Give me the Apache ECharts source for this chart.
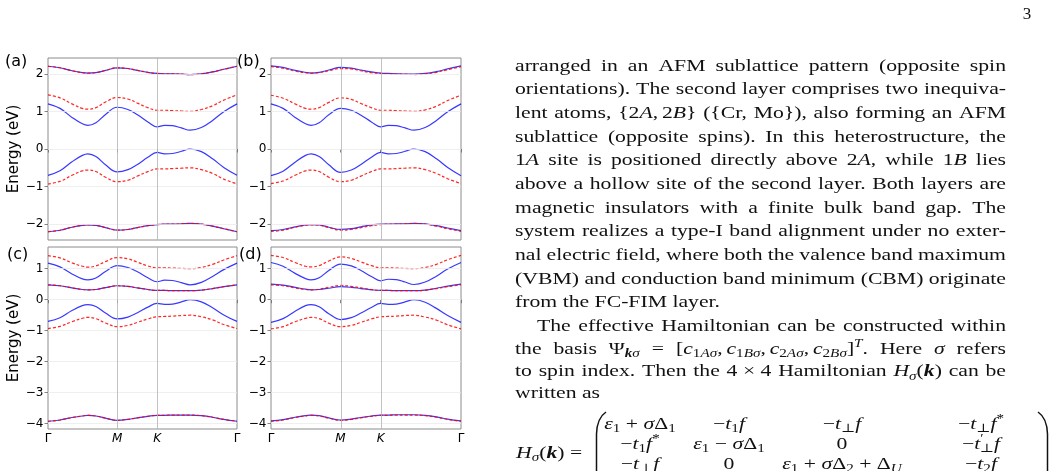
<!DOCTYPE html>
<html><head><meta charset="utf-8">
<script src="https://cdn.jsdelivr.net/npm/echarts@6/dist/echarts.min.js"></script>
<style>html,body{margin:0;padding:0;background:#fff}#c{width:1058px;height:471px}</style>
</head><body><div id="c"></div>
<script>
// ---------------- DATA ----------------
const kPath = [0, 0.15, 0.3, 0.43, 0.5, 0.6, 0.72, 0.866, 1.0, 1.12, 1.25, 1.366, 1.46, 1.56, 1.67, 1.78, 1.92, 2.06, 2.2, 2.366];
const kTickPos = [0, 0.866, 1.366, 2.366];
const kTickLabels = ['Γ', 'M', 'K', 'Γ'];
const yTicksAB = [-2, -1, 0, 1, 2];
const yTicksCD = [-4, -3, -2, -1, 0, 1];
const panelLabels = ['(a)', '(b)', '(c)', '(d)'];
const yAxisTitle = 'Energy (eV)';

// panel (a)
const aBlueTop = [2.20, 2.16, 2.08, 2.03, 2.02, 2.03, 2.09, 2.16, 2.14, 2.09, 2.04, 2.01, 2.00, 2.00, 1.99, 1.98, 2.00, 2.05, 2.12, 2.20];
const aRedTop  = [2.20, 2.16, 2.08, 2.03, 2.02, 2.03, 2.09, 2.16, 2.14, 2.09, 2.04, 2.01, 2.00, 2.00, 1.99, 1.98, 2.00, 2.05, 2.12, 2.20];
const aBlueUp  = [1.20, 1.08, 0.84, 0.67, 0.63, 0.70, 0.92, 1.11, 1.05, 0.91, 0.72, 0.59, 0.63, 0.62, 0.56, 0.50, 0.57, 0.76, 0.99, 1.20];
const aRedUp   = [1.44, 1.36, 1.20, 1.08, 1.06, 1.10, 1.25, 1.37, 1.33, 1.22, 1.10, 1.03, 1.03, 1.02, 1.01, 1.00, 1.05, 1.15, 1.30, 1.44];
const aBlueLow = [-0.70, -0.58, -0.34, -0.17, -0.13, -0.20, -0.42, -0.61, -0.55, -0.41, -0.22, -0.09, -0.13, -0.12, -0.06, 0.00, -0.07, -0.26, -0.49, -0.70];
const aRedLow  = [-0.93, -0.86, -0.70, -0.58, -0.56, -0.60, -0.75, -0.87, -0.83, -0.72, -0.60, -0.53, -0.53, -0.52, -0.51, -0.50, -0.55, -0.65, -0.80, -0.93];
const aBlueBot = [-2.20, -2.16, -2.08, -2.03, -2.02, -2.03, -2.09, -2.16, -2.14, -2.09, -2.04, -2.01, -2.00, -2.00, -1.99, -1.98, -2.00, -2.05, -2.12, -2.20];
const aRedBot  = [-2.20, -2.16, -2.08, -2.03, -2.02, -2.03, -2.09, -2.16, -2.14, -2.09, -2.04, -2.01, -2.00, -2.00, -1.99, -1.98, -2.00, -2.05, -2.12, -2.20];

// panel (b)
const bBlueTop = [2.21, 2.17, 2.09, 2.04, 2.02, 2.04, 2.10, 2.17, 2.15, 2.10, 2.05, 2.02, 2.01, 2.00, 1.99, 1.99, 2.01, 2.06, 2.13, 2.21];
const bRedTop  = [2.19, 2.15, 2.07, 2.03, 2.02, 2.03, 2.08, 2.14, 2.13, 2.08, 2.03, 2.01, 2.00, 1.99, 1.99, 1.98, 2.00, 2.04, 2.11, 2.19];
const bBlueUp  = [1.20, 1.08, 0.84, 0.67, 0.63, 0.70, 0.91, 1.08, 1.03, 0.90, 0.72, 0.59, 0.63, 0.62, 0.56, 0.50, 0.57, 0.76, 0.99, 1.20];
const bRedUp   = [1.43, 1.35, 1.20, 1.08, 1.06, 1.10, 1.24, 1.36, 1.32, 1.21, 1.10, 1.03, 1.03, 1.02, 1.01, 1.00, 1.04, 1.14, 1.29, 1.43];
const bBlueLow = [-0.71, -0.59, -0.35, -0.17, -0.13, -0.20, -0.42, -0.62, -0.56, -0.41, -0.22, -0.09, -0.13, -0.12, -0.06, 0.00, -0.07, -0.26, -0.49, -0.71];
const bRedLow  = [-0.92, -0.85, -0.70, -0.58, -0.56, -0.60, -0.75, -0.87, -0.83, -0.72, -0.60, -0.53, -0.53, -0.52, -0.51, -0.50, -0.55, -0.65, -0.79, -0.92];
const bBlueBot = [-2.17, -2.14, -2.07, -2.02, -2.01, -2.02, -2.08, -2.14, -2.12, -2.07, -2.02, -2.00, -2.00, -1.99, -1.99, -1.98, -1.99, -2.04, -2.10, -2.17];
const bRedBot  = [-2.19, -2.16, -2.08, -2.03, -2.02, -2.03, -2.09, -2.16, -2.14, -2.09, -2.04, -2.01, -2.00, -2.00, -1.99, -1.98, -2.00, -2.05, -2.12, -2.19];

// panel (c)
const cBlueUp  = [1.18, 1.06, 0.83, 0.67, 0.64, 0.70, 0.91, 1.10, 1.04, 0.90, 0.71, 0.58, 0.63, 0.62, 0.55, 0.48, 0.56, 0.75, 0.97, 1.18];
const cRedUp   = [1.42, 1.35, 1.19, 1.08, 1.05, 1.09, 1.23, 1.36, 1.32, 1.21, 1.09, 1.03, 1.03, 1.02, 1.01, 1.00, 1.04, 1.14, 1.28, 1.42];
const cBlueMid = [0.48, 0.45, 0.38, 0.33, 0.32, 0.33, 0.39, 0.45, 0.43, 0.38, 0.33, 0.30, 0.30, 0.29, 0.29, 0.29, 0.31, 0.36, 0.42, 0.48];
const cRedMid  = [0.48, 0.45, 0.38, 0.33, 0.32, 0.33, 0.39, 0.45, 0.43, 0.38, 0.33, 0.30, 0.30, 0.29, 0.29, 0.29, 0.31, 0.36, 0.42, 0.48];
const cBlueLow = [-0.70, -0.58, -0.35, -0.19, -0.16, -0.22, -0.43, -0.62, -0.56, -0.42, -0.24, -0.12, -0.15, -0.14, -0.07, 0.00, -0.07, -0.26, -0.49, -0.70];
const cRedLow  = [-0.93, -0.86, -0.71, -0.60, -0.57, -0.61, -0.75, -0.87, -0.83, -0.73, -0.62, -0.55, -0.54, -0.53, -0.51, -0.50, -0.55, -0.65, -0.80, -0.93];
const cBlueBot = [-3.92, -3.88, -3.80, -3.75, -3.73, -3.75, -3.82, -3.89, -3.86, -3.81, -3.76, -3.73, -3.73, -3.72, -3.72, -3.72, -3.74, -3.79, -3.86, -3.92];
const cRedBot  = [-3.92, -3.88, -3.80, -3.75, -3.73, -3.75, -3.82, -3.89, -3.86, -3.81, -3.76, -3.73, -3.73, -3.72, -3.72, -3.72, -3.74, -3.79, -3.86, -3.92];

// panel (d)
const dBlueUp  = [1.20, 1.08, 0.85, 0.68, 0.64, 0.71, 0.94, 1.15, 1.09, 0.94, 0.75, 0.61, 0.66, 0.65, 0.57, 0.49, 0.57, 0.76, 0.99, 1.20];
const dRedUp   = [1.43, 1.36, 1.20, 1.08, 1.06, 1.10, 1.25, 1.38, 1.33, 1.22, 1.10, 1.03, 1.03, 1.02, 1.01, 1.00, 1.04, 1.14, 1.29, 1.43];
const dBlueMid = [0.50, 0.47, 0.40, 0.34, 0.32, 0.33, 0.37, 0.42, 0.40, 0.36, 0.32, 0.30, 0.30, 0.29, 0.29, 0.29, 0.31, 0.37, 0.44, 0.50];
const dRedMid  = [0.48, 0.45, 0.38, 0.33, 0.32, 0.34, 0.40, 0.46, 0.43, 0.38, 0.33, 0.30, 0.30, 0.29, 0.29, 0.29, 0.31, 0.36, 0.42, 0.48];
const dBlueLow = [-0.73, -0.61, -0.37, -0.19, -0.16, -0.23, -0.45, -0.64, -0.58, -0.43, -0.25, -0.12, -0.15, -0.14, -0.07, 0.00, -0.08, -0.28, -0.51, -0.73];
const dRedLow  = [-0.94, -0.87, -0.71, -0.60, -0.57, -0.61, -0.76, -0.87, -0.83, -0.73, -0.62, -0.55, -0.54, -0.53, -0.51, -0.50, -0.56, -0.66, -0.81, -0.94];
const dBlueBot = [-3.91, -3.87, -3.79, -3.74, -3.72, -3.74, -3.81, -3.88, -3.85, -3.80, -3.75, -3.72, -3.72, -3.71, -3.71, -3.71, -3.73, -3.78, -3.85, -3.91];
const dRedBot  = [-3.92, -3.88, -3.80, -3.75, -3.73, -3.75, -3.82, -3.89, -3.86, -3.81, -3.76, -3.73, -3.73, -3.72, -3.72, -3.72, -3.74, -3.79, -3.86, -3.92];

// page text (words; math words are lists of [text, kind] segments)
const pageNumber = '3';
const textLines = [
  ['arranged','in','an','AFM','sublattice','pattern','(opposite','spin'],
  ['orientations).','The','second','layer','comprises','two','inequiva-'],
  ['lent','atoms,',[['{2','r'],['A','i'],[',','r'],{gap:3},['2','r'],['B','i'],['}','r']],'({Cr,','Mo}),','also','forming','an','AFM'],
  ['sublattice','(opposite','spins).','In','this','heterostructure,','the'],
  [[['1','r'],['A','i']],'site','is','positioned','directly','above',[['2','r'],['A','i'],[',','r']],'while',[['1','r'],['B','i']],'lies'],
  ['above','a','hollow','site','of','the','second','layer.','Both','layers','are'],
  ['magnetic','insulators','with','a','finite','bulk','band','gap.','The'],
  ['system','realizes','a','type-I','band','alignment','under','no','exter-'],
  ['nal','electric','field,','where','both','the','valence','band','maximum'],
  ['(VBM)','and','conduction','band','minimum','(CBM)','originate'],
  ['from','the','FC-FIM','layer.'],
  ['The','effective','Hamiltonian','can','be','constructed','within'],
  ['the','basis',[['Ψ','r'],['k','sbi'],['σ','si']],'=',[['[','r'],['c','i'],['1','sr'],['Aσ','si'],[',','r'],{gap:3},['c','i'],['1','sr'],['Bσ','si'],[',','r'],{gap:3},['c','i'],['2','sr'],['Aσ','si'],[',','r'],{gap:3},['c','i'],['2','sr'],['Bσ','si'],[']','r'],['T','pi'],['.','r']],'Here',[['σ','i']],'refers'],
  ['to','spin','index.','Then','the',[['4 × 4','r']],'Hamiltonian',[['H','i'],['σ','si'],['(','r'],['k','bi'],[')','r']],'can','be'],
  ['written','as']
];
const matrixLhs = [['H','i'],['σ','si'],['(','r'],['k','bi'],[')','r'],[' =','r']];
const matrixRows = [
  [ [['ε','i'],['1','sr'],[' + ','r'],['σ','i'],['Δ','r'],['1','sr']],
    [['−','r'],['t','i'],['1','sr'],['f','i']],
    [['−','r'],['t','i'],['⊥','sr'],['f','i']],
    [['−','r'],['t','i'],['⊥','sr'],['f','i'],['*','pr']] ],
  [ [['−','r'],['t','i'],['1','sr'],['f','i'],['*','pr']],
    [['ε','i'],['1','sr'],[' − ','r'],['σ','i'],['Δ','r'],['1','sr']],
    [['0','r']],
    [['−','r'],['t','i'],['′','pr'],{gap:-3},['⊥','sr'],['f','i']] ],
  [ [['−','r'],['t','i'],['⊥','sr'],['f','i']],
    [['0','r']],
    [['ε','i'],['1','sr'],[' + ','r'],['σ','i'],['Δ','r'],['2','sr'],[' + ','r'],['Δ','r'],['U','si']],
    [['−','r'],['t','i'],['2','sr'],['f','i']] ]
];

// ---------------- LAYOUT ----------------
const SANS = '"DejaVu Sans", sans-serif';
const SERIF = '"Liberation Serif", "DejaVu Serif", serif';
const FS = 17;
const STY = {
  r:{st:'normal',wt:'normal',sc:1,dy:0}, i:{st:'italic',wt:'normal',sc:1,dy:0}, bi:{st:'italic',wt:'bold',sc:1,dy:0},
  sr:{st:'normal',wt:'normal',sc:0.7,dy:0.2}, si:{st:'italic',wt:'normal',sc:0.7,dy:0.2}, sbi:{st:'italic',wt:'bold',sc:0.7,dy:0.2},
  pr:{st:'normal',wt:'normal',sc:0.7,dy:-0.4}, pi:{st:'italic',wt:'normal',sc:0.7,dy:-0.4}
};
const fontOf = k => `${STY[k].st} ${STY[k].wt} ${(FS*STY[k].sc).toFixed(2)}px ${SERIF}`;
const mctx = document.createElement('canvas').getContext('2d');
const normWord = w => typeof w === 'string' ? [[w,'r']] : w;
function segW(g){ if (!Array.isArray(g)) return g.gap; mctx.font = fontOf(g[1]); return mctx.measureText(g[0]).width; }
const wordW = w => normWord(w).reduce((s,g)=>s+segW(g),0);

const X0 = 515, X1 = 1006;
const raggedLines = [10, 14];
const indentLines = {11: 22};
const MIN_GAP = 0.3 * FS;
// horizontal glyph stretch: largest that keeps every justified line's gaps >= MIN_GAP
let TX = 2;
textLines.forEach((words, li) => {
  if (raggedLines.includes(li)) return;
  const avail = X1 - X0 - (indentLines[li] || 0);
  const sw = words.reduce((s,w)=>s+wordW(w),0);
  TX = Math.min(TX, (avail - (words.length-1)*MIN_GAP) / sw);
});
const SPACE = 0.32 * FS;

const els = [];
function placeWord(w, x, baseline){
  for (const g of normWord(w)) {
    if (!Array.isArray(g)) { x += g.gap*TX; continue; }
    const s = STY[g[1]], size = FS*s.sc, bl = baseline + s.dy*FS;
    els.push({type:'text', x:x, y: bl - 0.34*size, scaleX: TX, silent:true, z:100,
      style:{text:g[0], font:fontOf(g[1]), fill:'#111', textAlign:'left', textVerticalAlign:'middle', align:'left', verticalAlign:'middle'}});
    x += segW(g)*TX;
  }
  return x;
}
const lineCY = [68, 91.5, 115, 139, 162.5, 186, 210, 233.5, 257, 281, 304.5, 328, 351, 373.5, 395.5];
textLines.forEach((words, li) => {
  const bl = lineCY[li] + 0.23*FS;
  let x = X0 + (indentLines[li] || 0);
  const widths = words.map(w => wordW(w)*TX);
  const tot = widths.reduce((a,b)=>a+b,0);
  const gap = raggedLines.includes(li) ? SPACE : (X1 - x - tot)/(words.length-1);
  words.forEach((w,i) => { placeWord(w, x, bl); x += widths[i] + gap; });
});
// matrix
const colCX = [640, 729, 842, 981], rowCY = [426, 446, 466];
matrixRows.forEach((row, r) => row.forEach((cell, c) => {
  const w = wordW(cell)*TX; placeWord(cell, colCX[c] - w/2, rowCY[r] + 0.23*FS);
}));
placeWord(matrixLhs, 516, 455 + 0.23*FS);
// big parentheses
const parenStyle = {stroke:'#111', lineWidth:1.5, fill:null};
els.push({type:'bezierCurve', silent:true, shape:{x1:606,y1:412,cpx1:597,cpy1:418,x2:596.5,y2:434}, style:parenStyle});
els.push({type:'line', silent:true, shape:{x1:596.5,y1:434,x2:596.5,y2:480}, style:parenStyle});
els.push({type:'bezierCurve', silent:true, shape:{x1:596.5,y1:480,cpx1:597,cpy1:494,x2:606,y2:500}, style:parenStyle});
els.push({type:'bezierCurve', silent:true, shape:{x1:1038,y1:412,cpx1:1047,cpy1:418,x2:1047.5,y2:434}, style:parenStyle});
els.push({type:'line', silent:true, shape:{x1:1047.5,y1:434,x2:1047.5,y2:480}, style:parenStyle});
// page number
els.push({type:'text', x:1027, y:15, silent:true, style:{text:pageNumber, font:`normal ${FS}px ${SERIF}`, fill:'#111', textAlign:'center', align:'center', textVerticalAlign:'middle', verticalAlign:'middle'}});

// ---------------- CHART ----------------
const BLUE = 'rgba(0,0,255,0.78)', RED = 'rgba(255,0,0,0.85)';
const panels = [
  {left:48, top:58, width:189, height:182, ymin:-2.42, ymax:2.42, yt:yTicksAB, showX:false, name:true,
   blue:[aBlueTop,aBlueUp,aBlueLow,aBlueBot], red:[aRedTop,aRedUp,aRedLow,aRedBot], lab:[5,62]},
  {left:271, top:58, width:190, height:182, ymin:-2.42, ymax:2.42, yt:yTicksAB, showX:false, name:false,
   blue:[bBlueTop,bBlueUp,bBlueLow,bBlueBot], red:[bRedTop,bRedUp,bRedLow,bRedBot], lab:[237,62]},
  {left:48, top:247, width:189, height:182, ymin:-4.17, ymax:1.70, yt:yTicksCD, showX:true, name:true,
   blue:[cBlueUp,cBlueMid,cBlueLow,cBlueBot], red:[cRedUp,cRedMid,cRedLow,cRedBot], lab:[7,255]},
  {left:271, top:247, width:190, height:182, ymin:-4.17, ymax:1.70, yt:yTicksCD, showX:true, name:false,
   blue:[dBlueUp,dBlueMid,dBlueLow,dBlueBot], red:[dRedUp,dRedMid,dRedLow,dRedBot], lab:[239,255]}
];
panels.forEach((p,i) => els.push({type:'text', x:p.lab[0], y:p.lab[1], silent:true,
  style:{text:panelLabels[i], font:`normal 16px ${SANS}`, fill:'#000', textAlign:'left', align:'left', textVerticalAlign:'middle', verticalAlign:'middle'}}));

const nearestIdx = v => { let b=0; kTickPos.forEach((t,i)=>{ if (Math.abs(t-v) < Math.abs(kTickPos[b]-v)) b=i; }); return b; };
const minus = v => v < 0 ? '\u2212' + Math.abs(v) : String(v);

const series = [];
panels.forEach((p,i) => {
  series.push({type:'line', xAxisIndex:i, yAxisIndex:i, data:[], silent:true, z:1,
    markLine:{silent:true, symbol:['none','none'], label:{show:false}, animation:false,
      data: p.yt.map(v=>({yAxis:v, lineStyle:{color:'#ebebeb', width:0.8, type:'solid'}}))
        .concat(kTickPos.slice(1,-1).map(v=>({xAxis:v, lineStyle:{color:'#b3b3b3', width:0.8, type:'solid'}})))}});
  p.blue.forEach(arr => series.push({type:'line', xAxisIndex:i, yAxisIndex:i, showSymbol:false, smooth:0.4, silent:true, z:3,
    data:kPath.map((k,j)=>[k,arr[j]]), lineStyle:{color:BLUE, width:1.2}}));
  p.red.forEach(arr => series.push({type:'line', xAxisIndex:i, yAxisIndex:i, showSymbol:false, smooth:0.4, silent:true, z:4,
    data:kPath.map((k,j)=>[k,arr[j]]), lineStyle:{color:RED, width:1.2, type:[3,2]}}));
});

const option = {
  animation:false,
  backgroundColor:'#ffffff',
  grid: panels.map(p=>({left:p.left, top:p.top, width:p.width, height:p.height, show:true, borderColor:'#8c8c8c', borderWidth:1, backgroundColor:'transparent'})),
  xAxis: panels.map((p,i)=>({type:'value', gridIndex:i, min:0, max:kPath[kPath.length-1],
    axisLine:{show:false}, splitLine:{show:false},
    axisTick:{show:true, customValues:kTickPos, length:3.5, lineStyle:{color:'#666', width:0.8}},
    axisLabel:{show:p.showX, customValues:kTickPos, margin:4, fontSize:12, fontFamily:SANS, color:'#000',
      showMinLabel:true, showMaxLabel:true,
      formatter: v => { const t = kTickLabels[nearestIdx(v)]; return /[A-Z]/.test(t) ? '{it|'+t+'}' : t; },
      rich:{it:{fontStyle:'italic', fontSize:12, fontFamily:SANS, color:'#000'}}}})),
  yAxis: panels.map((p,i)=>({type:'value', gridIndex:i, min:p.ymin, max:p.ymax,
    axisLine:{show:false}, splitLine:{show:false},
    axisTick:{show:true, customValues:p.yt, length:3.5, lineStyle:{color:'#666', width:0.8}},
    axisLabel:{customValues:p.yt, margin:4.5, fontSize:12, fontFamily:SANS, color:'#000', formatter:minus, showMinLabel:true, showMaxLabel:true},
    name: p.name ? yAxisTitle : '', nameLocation:'middle', nameGap:21, nameRotate:90,
    nameTextStyle:{fontSize:15, fontFamily:SANS, color:'#000'}})),
  series: series,
  graphic: {elements: els}
};
const chart = echarts.init(document.getElementById('c'), null, {renderer:'canvas'});
chart.setOption(option);
</script></body></html>
